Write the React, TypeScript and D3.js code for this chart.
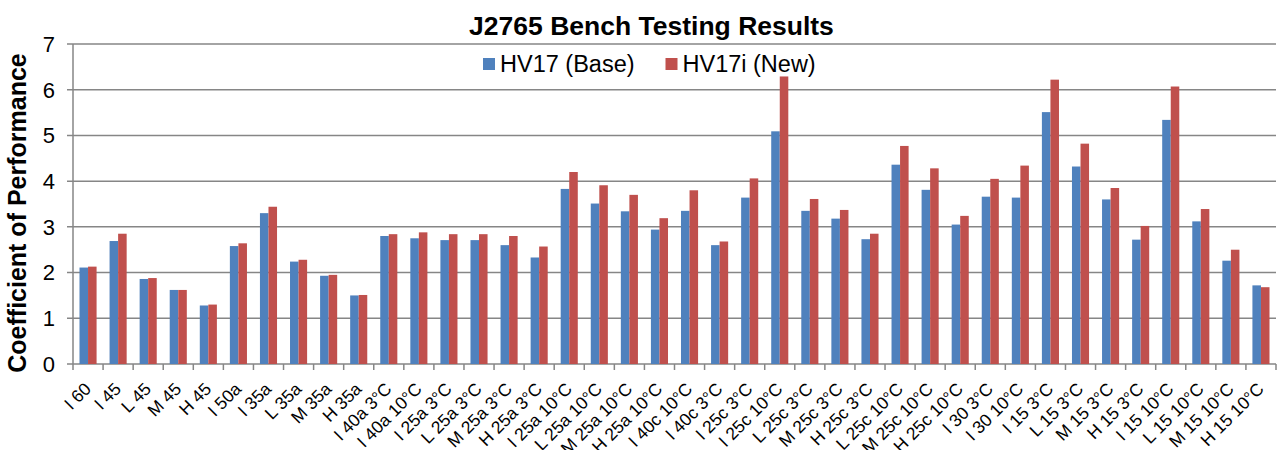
import * as d3 from "d3";

// categories along the x axis
const categories = [
  "I 60", "I 45", "L 45", "M 45", "H 45", "I 50a", "I 35a", "L 35a", "M 35a", "H 35a",
  "I 40a 3°C", "I 40a 10°C", "I 25a 3°C", "L 25a 3°C", "M 25a 3°C", "H 25a 3°C",
  "I 25a 10°C", "L 25a 10°C", "M 25a 10°C", "H 25a 10°C", "I 40c 10°C", "I 40c 3°C",
  "I 25c 3°C", "I 25c 10°C", "L 25c 3°C", "M 25c 3°C", "H 25c 3°C", "L 25c 10°C",
  "M 25c 10°C", "H 25c 10°C", "I 30 3°C", "I 30 10°C", "I 15 3°C", "L 15 3°C",
  "M 15 3°C", "H 15 3°C", "I 15 10°C", "L 15 10°C", "M 15 10°C", "H 15 10°C",
];

const seriesNames = ["HV17 (Base)", "HV17i (New)"];
const seriesColors = ["#4F81BD", "#C0504D"];

const baseValues = [
  2.11, 2.69, 1.86, 1.62, 1.28, 2.58, 3.30, 2.24, 1.93, 1.50,
  2.80, 2.75, 2.71, 2.71, 2.60, 2.33, 3.83, 3.51, 3.34, 2.94,
  3.35, 2.60, 3.64, 5.09, 3.35, 3.18, 2.73, 4.36, 3.81, 3.05,
  3.66, 3.64, 5.51, 4.32, 3.60, 2.72, 5.34, 3.12, 2.26, 1.72,
];

const newValues = [
  2.13, 2.85, 1.88, 1.62, 1.30, 2.64, 3.44, 2.28, 1.95, 1.51,
  2.84, 2.88, 2.84, 2.84, 2.80, 2.57, 4.20, 3.91, 3.70, 3.19,
  3.80, 2.68, 4.06, 6.29, 3.61, 3.37, 2.85, 4.77, 4.28, 3.24,
  4.05, 4.34, 6.22, 4.82, 3.85, 3.02, 6.07, 3.39, 2.50, 1.68,
];

const yTicks = [0, 1, 2, 3, 4, 5, 6, 7];

const W = 1279;
const H = 450;
const left = 73;
const right = 1276;
const top = 44;
const bottom = 364;
const font = "'Liberation Sans', Arial, sans-serif";
const gridColor = "#868686";

export default function App() {
  const x0 = d3.scaleBand<string>().domain(categories).range([left, right]);
  const x1 = d3
    .scaleBand<string>()
    .domain(seriesNames)
    .range([0, x0.bandwidth()])
    .paddingOuter(0.76);
  const y = d3.scaleLinear().domain([0, 7]).range([bottom, top]);

  const allValues = [baseValues, newValues];

  return (
    <svg
      width={W}
      height={H}
      style={{ position: "fixed", left: 0, top: 0, background: "#fff" }}
      fontFamily={font}
    >
      <rect width={W} height={H} fill="#fff" />
      {/* gridlines + y ticks */}
      {yTicks.map((t) => (
        <g key={t}>
          <line x1={left - 6} x2={right} y1={y(t)} y2={y(t)} stroke={gridColor} strokeWidth={1.5} />
          <text x={55} y={y(t)} dy="0.36em" textAnchor="end" fontSize={22} fill="#000">
            {t}
          </text>
        </g>
      ))}
      <line x1={left} x2={left} y1={top} y2={bottom} stroke={gridColor} strokeWidth={1.5} />

      {/* bars */}
      {allValues.map((vals, si) =>
        vals.map((v, i) => (
          <rect
            key={`${si}-${i}`}
            x={(x0(categories[i]) ?? 0) + (x1(seriesNames[si]) ?? 0)}
            y={y(v)}
            width={x1.bandwidth()}
            height={y(0) - y(v)}
            fill={seriesColors[si]}
          />
        ))
      )}

      {/* x axis ticks */}
      {categories.concat([""]).map((c, i) => {
        const xx = left + i * x0.step();
        return <line key={i} x1={xx} x2={xx} y1={bottom} y2={bottom + 6} stroke={gridColor} strokeWidth={1.5} />;
      })}
      {categories.map((c) => {
        const cx = (x0(c) ?? 0) + x0.bandwidth() / 2 + 4;
        const cy = 390;
        return (
          <text
            key={c}
            transform={`translate(${cx},${cy}) rotate(-45)`}
            textAnchor="end"
            fontSize={17.5}
            fill="#000"
          >
            {c}
          </text>
        );
      })}

      {/* title */}
      <text x={651.5} y={35} textAnchor="middle" fontSize={26.5} fontWeight="bold" fill="#000">
        J2765 Bench Testing Results
      </text>

      {/* y axis title */}
      <text
        transform={`translate(26,213) rotate(-90)`}
        textAnchor="middle"
        fontSize={25}
        fontWeight="bold"
        fill="#000"
      >
        Coefficient of Performance
      </text>

      {/* legend */}
      {seriesNames.map((s, i) => {
        const lx = i === 0 ? 483 : 665.5;
        return (
          <g key={s}>
            <rect x={lx} y={58} width={12} height={12} fill={seriesColors[i]} />
            <text x={lx + 17} y={72} fontSize={23.5} fill="#000">
              {s}
            </text>
          </g>
        );
      })}
    </svg>
  );
}
